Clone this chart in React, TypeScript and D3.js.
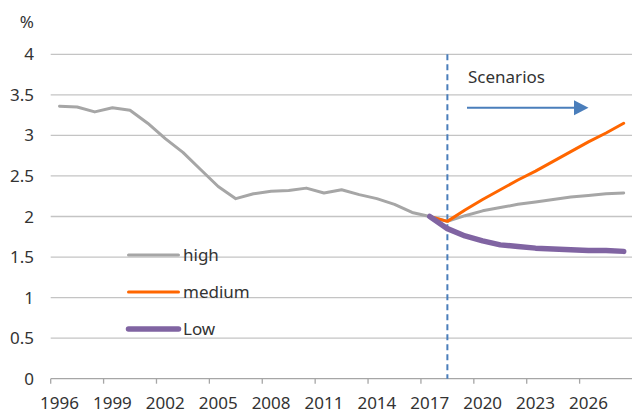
import React from "react";
import * as d3 from "d3";

// Years on the category axis
const years: number[] = d3.range(1996, 2029);

// Series values (%); null where a scenario is not defined
const high: (number | null)[] = [
  3.36, 3.35, 3.29, 3.34, 3.31, 3.15, 2.96, 2.79, 2.58, 2.37, 2.22,
  2.28, 2.31, 2.32, 2.35, 2.29, 2.33, 2.27, 2.22, 2.15, 2.05, 2.0,
  1.94, 2.01, 2.07, 2.11, 2.15, 2.18, 2.21, 2.24, 2.26, 2.28, 2.29,
];
const medium: (number | null)[] = [
  null, null, null, null, null, null, null, null, null, null, null,
  null, null, null, null, null, null, null, null, null, null, 2.0,
  1.94, 2.08, 2.21, 2.33, 2.45, 2.56, 2.68, 2.8, 2.92, 3.03, 3.15,
];
const low: (number | null)[] = [
  null, null, null, null, null, null, null, null, null, null, null,
  null, null, null, null, null, null, null, null, null, null, 2.0,
  1.85, 1.76, 1.7, 1.65, 1.63, 1.61, 1.6, 1.59, 1.58, 1.58, 1.57,
];

const yTicks: number[] = [0, 0.5, 1, 1.5, 2, 2.5, 3, 3.5, 4];
const labelYears: number[] = d3.range(1996, 2029, 3);
const scenarioStart = 2018;

const seriesDefs = [
  { name: "high", values: high, color: "#A6A6A6", width: 3 },
  { name: "medium", values: medium, color: "#FF6600", width: 3 },
  { name: "Low", values: low, color: "#8064A2", width: 5.5 },
];

const W = 632;
const H = 410;
const FONT = "'Noto Sans', sans-serif";
const TEXT = "#333333";

export default function App() {
  const x = d3
    .scaleBand<number>()
    .domain(years)
    .range([50.7, 632.5])
    .padding(0);
  const cx = (yr: number) => (x(yr) as number) + x.bandwidth() / 2;
  const y = d3.scaleLinear().domain([0, 4]).range([378.7, 54.3]);

  const line = d3
    .line<{ yr: number; v: number | null }>()
    .defined((d) => d.v !== null)
    .x((d) => cx(d.yr))
    .y((d) => y(d.v as number));

  const x0 = x.range()[0];
  const x1 = x.range()[1];
  const dashX = cx(scenarioStart);

  const legendY = [255, 292, 329];

  return (
    <div style={{ position: "absolute", left: 0, top: 0 }}>
      <svg width={W} height={H} style={{ display: "block" }}>
        <rect width={W} height={H} fill="#ffffff" />
        {/* gridlines */}
        {yTicks.map((t) => (
          <line
            key={t}
            x1={x0}
            x2={x1}
            y1={y(t)}
            y2={y(t)}
            stroke={t === 0 ? "#A6A6A6" : "#C4C4C4"}
            strokeWidth={1.3}
          />
        ))}
        {/* y labels */}
        {yTicks.map((t) => (
          <text
            key={"l" + t}
            x={34}
            y={y(t) + 6}
            textAnchor="end"
            fontFamily={FONT}
            fontSize={17}
            fill={TEXT}
          >
            {String(t)}
          </text>
        ))}
        <text x={34} y={28} textAnchor="end" fontFamily={FONT} fontSize={17} fill={TEXT}>
          %
        </text>
        {/* x tick marks at category boundaries */}
        {labelYears.map((yr) => (
          <line
            key={"t" + yr}
            x1={x(yr) as number}
            x2={x(yr) as number}
            y1={y(0)}
            y2={y(0) + 5}
            stroke="#A6A6A6"
            strokeWidth={1.3}
          />
        ))}
        {labelYears.map((yr) => (
          <text
            key={"x" + yr}
            x={cx(yr)}
            y={409}
            textAnchor="middle"
            fontFamily={FONT}
            fontSize={17}
            fill={TEXT}
          >
            {yr}
          </text>
        ))}
        {/* scenario divider */}
        <line
          x1={dashX}
          x2={dashX}
          y1={y(4)}
          y2={y(0)}
          stroke="#4A7EBB"
          strokeWidth={2}
          strokeDasharray="6 4"
        />
        <text x={468} y={83} fontFamily={FONT} fontSize={17} fill={TEXT}>
          Scenarios
        </text>
        <line x1={467} x2={576} y1={107.7} y2={107.7} stroke="#4A7EBB" strokeWidth={2} />
        <path d="M574,100.2 L588.5,107.7 L574,115.2 Z" fill="#4A7EBB" />
        {/* series */}
        {seriesDefs.map((s) => (
          <path
            key={s.name}
            d={line(years.map((yr, i) => ({ yr, v: s.values[i] }))) || ""}
            fill="none"
            stroke={s.color}
            strokeWidth={s.width}
            strokeLinejoin="round"
            strokeLinecap="round"
          />
        ))}
        {/* legend */}
        {seriesDefs.map((s, i) => (
          <g key={"lg" + s.name}>
            <line
              x1={128.5}
              x2={178.5}
              y1={legendY[i]}
              y2={legendY[i]}
              stroke={s.color}
              strokeWidth={s.width}
              strokeLinecap="round"
            />
            <text
              x={183}
              y={legendY[i] + 6}
              fontFamily={FONT}
              fontSize={17}
              fill={TEXT}
            >
              {s.name}
            </text>
          </g>
        ))}
      </svg>
    </div>
  );
}
